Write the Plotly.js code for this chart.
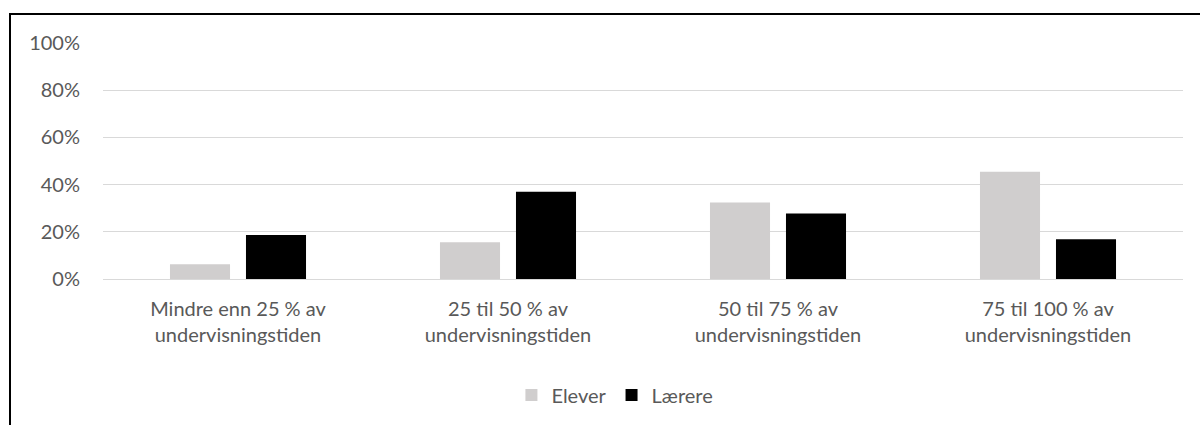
<!DOCTYPE html>
<html>
<head>
<meta charset="utf-8">
<script src="https://cdn.plot.ly/plotly-3.0.1.min.js"></script>
<style>
  html, body { margin: 0; padding: 0; background: #fff; }
  #chart { width: 1200px; height: 425px; }
  #frame { position: absolute; left: 9px; top: 13px; width: 1300px; height: 500px;
           border-top: 2px solid #000; border-left: 2px solid #000; pointer-events: none; }
</style>
</head>
<body>
<div id="chart"></div>
<div id="frame"></div>
<script>
const categories = [
  "Mindre enn 25 % av<br>undervisningstiden",
  "25 til 50 % av<br>undervisningstiden",
  "50 til 75 % av<br>undervisningstiden",
  "75 til 100 % av<br>undervisningstiden"
];
const elever = [0.063, 0.156, 0.324, 0.454];
const laerere = [0.186, 0.370, 0.278, 0.168];
const seriesNames = ["Elever", "Lærere"];
const yTicks = [0, 0.2, 0.4, 0.6, 0.8, 1.0];
const yTickLabels = ["0%", "20%", "40%", "60%", "80%", "100%"];

const FONT = "Lato, 'Open Sans', sans-serif";
const FS = 20;

const traces = [
  { type: "bar", name: seriesNames[0], x: categories, y: elever,
    marker: { color: "#d0cece" }, hoverinfo: "y" },
  { type: "bar", name: seriesNames[1], x: categories, y: laerere,
    marker: { color: "#000000" }, hoverinfo: "y" }
];

const layout = {
  width: 1200, height: 425,
  margin: { l: 103, r: 17, t: 43, b: 145 },
  paper_bgcolor: "#fff", plot_bgcolor: "#fff",
  font: { family: FONT, size: FS, color: "#595959" },
  barmode: "group",
  bargap: 0.437,
  bargroupgap: 0.21,
  showlegend: true,
  legend: { orientation: "h", x: 0.474, xanchor: "center", y: -0.485, yanchor: "middle",
            font: { family: FONT, size: FS, color: "#595959" }, itemwidth: 30, traceorder: "normal" },
  xaxis: { type: "category", showgrid: false, zeroline: false, showline: false,
           ticks: "", tickfont: { family: FONT, size: FS, color: "#595959" }, ticklabelstandoff: 16 },
  yaxis: { range: [0, 1.0], tickvals: yTicks, ticktext: yTickLabels,
           showgrid: true, gridcolor: "#d9d9d9", gridwidth: 1,
           zeroline: true, zerolinecolor: "#d9d9d9", zerolinewidth: 1,
           showline: false, ticks: "", ticklabelstandoff: 22,
           tickfont: { family: FONT, size: FS, color: "#595959" } }
};

Plotly.newPlot("chart", traces, layout, { displayModeBar: false, staticPlot: true });
</script>
</body>
</html>
